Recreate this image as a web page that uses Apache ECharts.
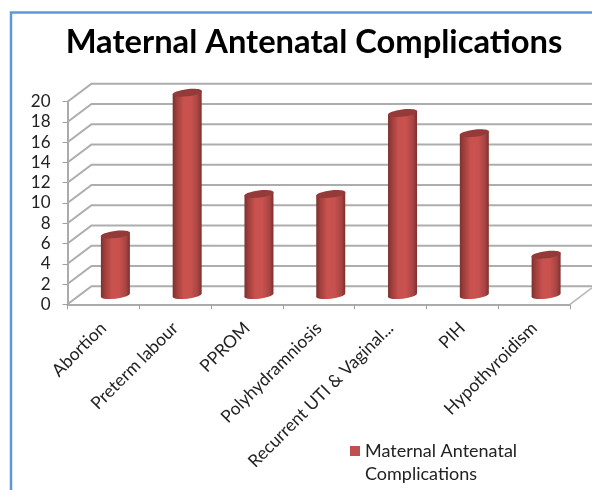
<!DOCTYPE html>
<html>
<head>
<meta charset="utf-8">
<style>html,body{margin:0;padding:0;background:#fff}#c{width:592px;height:490px}</style>
<script src="https://cdn.jsdelivr.net/npm/echarts@6/dist/echarts.min.js"></script>
</head>
<body>
<div id="c"></div>
<script>
var categories = ['Abortion','Preterm labour','PPROM','Polyhydramniosis','Recurrent UTI & Vaginal...','PIH','Hypothyroidism'];
var values = [6,20,10,10,18,16,4];
var yTicks = [0,2,4,6,8,10,12,14,16,18,20];
var seriesName = 'Maternal Antenatal\nComplications';
var chartTitle = 'Maternal Antenatal Complications';

var FONT = 'Lato, "Open Sans", sans-serif';
var DX = 24, DY = -18, RIGHT_EDGE = 592, BAR_W = 29, TILT = 1.8;
var chart = echarts.init(document.getElementById('c'), null, {renderer:'canvas'});

function wallItem(params, api) {
  var v = api.value(1);
  var p = api.coord([0, v]);
  var cs = params.coordSys;
  var x0 = cs.x, x1 = cs.x + cs.width, y = p[1];
  var style = {stroke:'#adadad', lineWidth:2, fill:null};
  var kids = [{type:'polyline', shape:{points:[[x0,y],[x0+DX,y+DY],[RIGHT_EDGE,y+DY]]}, style:style}];
  if (v === 0) {
    kids.push({type:'line', shape:{x1:x1,y1:y,x2:RIGHT_EDGE,y2:y+DY*(RIGHT_EDGE-x1)/DX}, style:{stroke:'#b5b5b5',lineWidth:1.5}});
  }
  return {type:'group', silent:true, children:kids};
}

function barItem(params, api) {
  var i = api.value(0), v = api.value(1);
  var t = api.coord([i, v]), b = api.coord([i, 0]);
  var cx = t[0] + DX/2, ty = t[1] + DY/2, by = b[1] + DY/2;
  var hw = BAR_W/2;
  var grad = new echarts.graphic.LinearGradient(0,0,1,0,[
    {offset:0,color:'#7d302e'},{offset:0.14,color:'#a03f3c'},
    {offset:0.38,color:'#c9524f'},{offset:0.62,color:'#c9524f'},
    {offset:0.86,color:'#a84543'},{offset:1,color:'#7d302e'}
  ]);
  var rot = Math.atan2(TILT*2, BAR_W);
  return {type:'group', children:[
    {type:'ellipse', shape:{cx:cx,cy:by,rx:hw,ry:3.4}, rotation:rot, originX:cx, originY:by, style:{fill:grad}},
    {type:'polygon', shape:{points:[[cx-hw,ty+TILT],[cx+hw,ty-TILT],[cx+hw,by-TILT],[cx-hw,by+TILT]]}, style:{fill:grad}},
    {type:'ellipse', shape:{cx:cx,cy:ty,rx:hw+0.3,ry:3.6}, rotation:rot, originX:cx, originY:ty, style:{fill:'#943a38'}}
  ]};
}

chart.setOption({
  animation:false,
  backgroundColor:'#fff',
  title:{text:chartTitle, left:309, top:21, textAlign:'center',
    textStyle:{fontFamily:FONT,fontWeight:'bold',fontSize:32.7,color:'#000'}},
  grid:{left:67.5,right:22,top:101.7,bottom:185.7,containLabel:false},
  xAxis:{type:'category',data:categories,boundaryGap:true,
    axisLine:{show:true,lineStyle:{color:'#ababab',width:2}},
    axisTick:{show:true,length:5,lineStyle:{color:'#a0a0a0',width:1}},
    axisLabel:{interval:0,rotate:45,fontFamily:FONT,fontSize:17.5,color:'#222',margin:21},
    splitLine:{show:false}},
  yAxis:{type:'value',min:0,max:20,interval:2,
    axisLine:{show:true,lineStyle:{color:'#ababab',width:2}},
    axisTick:{show:true,length:5,lineStyle:{color:'#a0a0a0',width:1}},
    axisLabel:{fontFamily:FONT,fontSize:17,color:'#222',margin:17,padding:[3,0,0,0]},
    splitLine:{show:false}},
  legend:{show:true,data:[seriesName],left:345,top:435,itemWidth:10,itemHeight:34,itemGap:0,
    icon:'path://M0 0H10V10H0Z M0 34H0.01V34.01H0Z',
    textStyle:{fontFamily:FONT,fontSize:18,color:'#222',lineHeight:23},
    selectedMode:false},
  graphic:[
    {type:'polyline',silent:true,shape:{points:[[11,490],[11,12.5],[592,12.5]]},style:{stroke:'#5b9bd5',lineWidth:2.5,fill:null}}
  ],
  series:[
    {type:'custom',name:'walls',silent:true,z:1,renderItem:wallItem,
      data:yTicks.map(function(v){return [0,v];}),encode:{x:0,y:1}},
    {type:'custom',name:seriesName,z:3,renderItem:barItem,itemStyle:{color:'#c0504d'},
      data:values.map(function(v,i){return [i,v];}),encode:{x:0,y:1}}
  ]
});
</script>
</body>
</html>
